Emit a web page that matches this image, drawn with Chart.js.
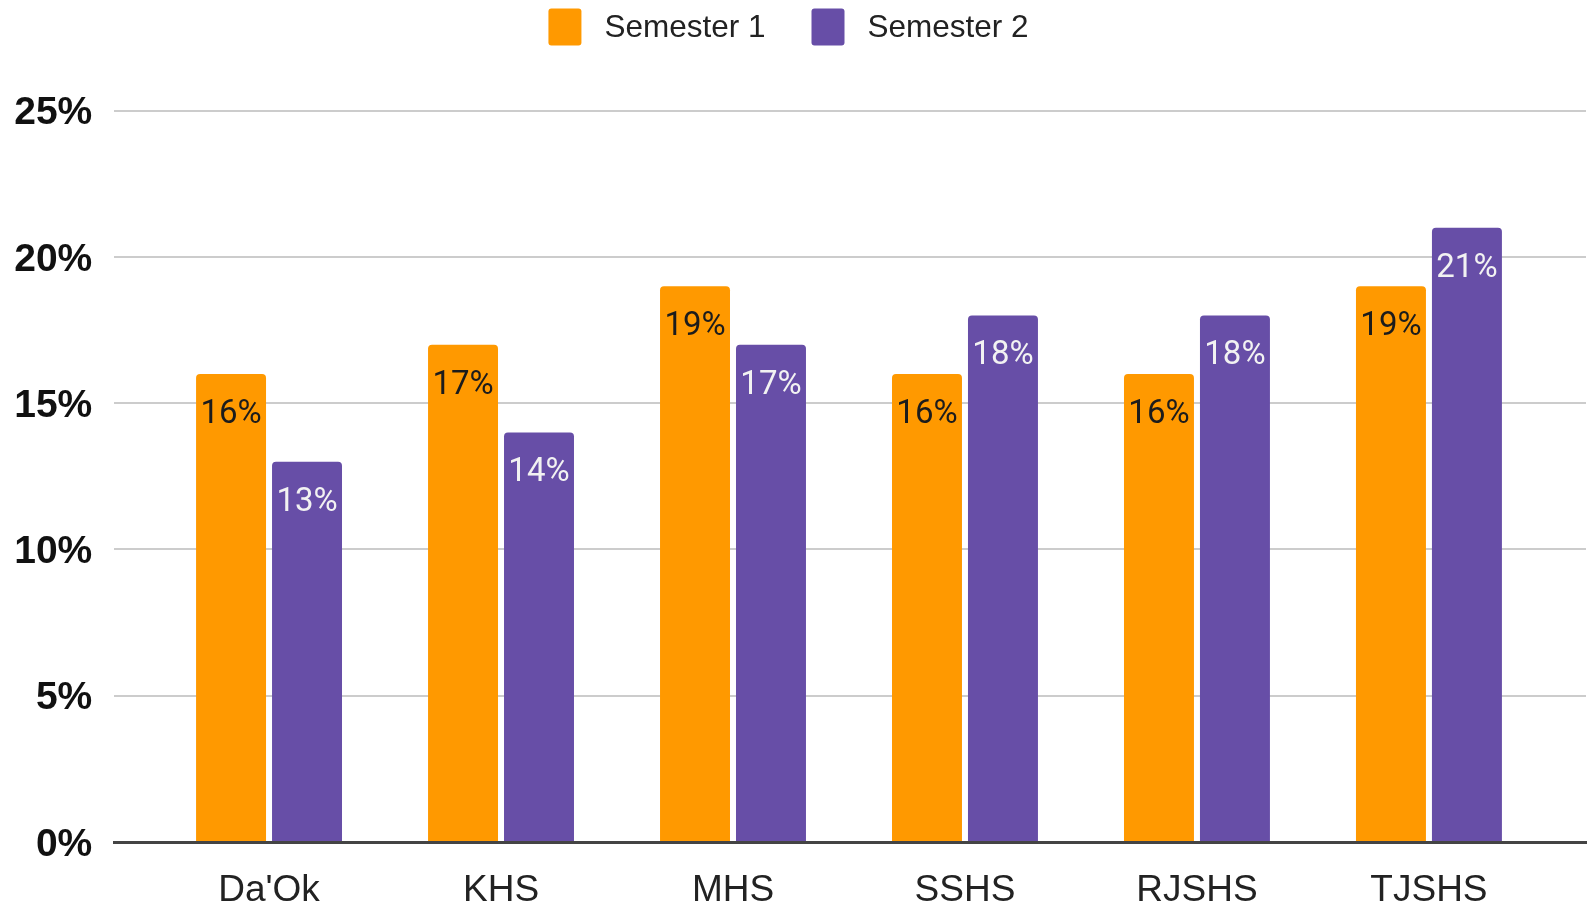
<!DOCTYPE html>
<html>
<head>
<meta charset="utf-8">
<script src="https://cdn.jsdelivr.net/npm/chart.js@4/dist/chart.umd.min.js"></script>
<style>
  html, body { margin: 0; padding: 0; background: #ffffff; }
  #wrap { width: 1589px; height: 908px; position: relative; }
</style>
</head>
<body>
<div id="wrap"><canvas id="c" width="1589" height="908"></canvas></div>
<script>
const categories = ["Da'Ok", "KHS", "MHS", "SSHS", "RJSHS", "TJSHS"];
const semester1 = [16, 17, 19, 16, 16, 19];
const semester2 = [13, 14, 17, 18, 18, 21];
const seriesNames = ["Semester 1", "Semester 2"];
const yTicks = [0, 5, 10, 15, 20, 25];

const COLORS = ["#ff9900", "#674ea7"];
const LABEL_COLORS = ["#1c1c1c", "#f2f2f2"];

const toPoints = arr => arr.map((v, i) => ({ x: i, y: v }));

const valueLabels = {
  id: 'valueLabels',
  afterDatasetsDraw(chart) {
    const ctx = chart.ctx;
    ctx.save();
    ctx.font = '33px Roboto';
    ctx.textAlign = 'center';
    ctx.textBaseline = 'alphabetic';
    chart.data.datasets.forEach((ds, di) => {
      const meta = chart.getDatasetMeta(di);
      ctx.fillStyle = LABEL_COLORS[di];
      meta.data.forEach((bar, i) => {
        const v = ds.data[i].y;
        ctx.fillText(v + '%', bar.x, bar.y + 49);
      });
    });
    ctx.restore();
  }
};

const customLegend = {
  id: 'customLegend',
  afterDraw(chart) {
    const ctx = chart.ctx;
    ctx.save();
    ctx.font = '31.5px "Liberation Sans", Arial, sans-serif';
    ctx.textBaseline = 'middle';
    ctx.textAlign = 'left';
    const boxW = 33, boxH = 37, gap = 23, spacing = 46;
    const items = chart.data.datasets.map(ds => ({ text: ds.label, color: ds.backgroundColor, w: ctx.measureText(ds.label).width }));
    let total = 0;
    items.forEach((it, i) => { total += boxW + gap + it.w + (i < items.length - 1 ? spacing : 0); });
    let x = chart.width / 2 - 6 - total / 2;
    const cy = 27;
    items.forEach(it => {
      ctx.fillStyle = it.color;
      ctx.beginPath();
      ctx.roundRect(x, cy - boxH / 2, boxW, boxH, 3);
      ctx.fill();
      x += boxW + gap;
      ctx.fillStyle = '#222222';
      ctx.fillText(it.text, x, cy + 1);
      x += it.w + spacing;
    });
    ctx.restore();
  }
};

new Chart(document.getElementById('c'), {
  type: 'bar',
  data: {
    datasets: [
      { label: seriesNames[0], data: toPoints(semester1), backgroundColor: COLORS[0],
        borderRadius: { topLeft: 4, topRight: 4 }, borderSkipped: 'start' },
      { label: seriesNames[1], data: toPoints(semester2), backgroundColor: COLORS[1],
        borderRadius: { topLeft: 4, topRight: 4 }, borderSkipped: 'start' }
    ]
  },
  options: {
    responsive: false,
    animation: false,
    devicePixelRatio: 1,
    categoryPercentage: 0.655,
    barPercentage: 0.921,
    layout: { padding: { top: 110.7, right: 3, bottom: 0, left: 0 } },
    plugins: {
      legend: { display: false },
      tooltip: { enabled: false }
    },
    scales: {
      x: {
        type: 'linear',
        offset: false,
        min: -0.667,
        max: 5.677,
        grid: { display: false, drawTicks: false, offset: false },
        border: { display: true, color: '#444444', width: 3 },
        afterBuildTicks: axis => { axis.ticks = categories.map((_, i) => ({ value: i })); },
        afterFit: s => { s.height = 66; },
        ticks: {
          autoSkip: false,
          maxRotation: 0,
          padding: 27,
          color: '#222222',
          font: { family: '"Liberation Sans", Arial, sans-serif', size: 37 },
          callback: v => categories[v]
        }
      },
      y: {
        min: 0,
        max: 25,
        afterBuildTicks: axis => { axis.ticks = yTicks.map(v => ({ value: v })); },
        afterFit: s => { s.width = 114.3; },
        grid: { color: '#cccccc', lineWidth: 2, drawTicks: false },
        border: { display: false },
        ticks: {
          padding: 22,
          labelOffset: 3,
          color: '#111111',
          font: { family: '"Liberation Sans", Arial, sans-serif', size: 39, weight: 'bold' },
          callback: v => v + '%'
        }
      }
    }
  },
  plugins: [valueLabels, customLegend]
});
</script>
</body>
</html>
